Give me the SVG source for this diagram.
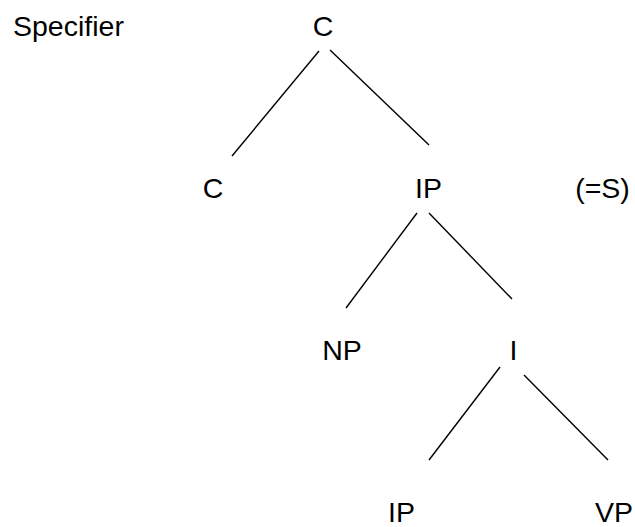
<svg xmlns="http://www.w3.org/2000/svg" width="635" height="527" viewBox="0 0 635 527">
  <style>
    .lbl { font-family: "Liberation Sans", Arial, sans-serif; font-size: 28.5px; fill: #000; text-anchor: middle; }
    .note { font-family: "Liberation Sans", Arial, sans-serif; font-size: 28.5px; fill: #000; }
    .edge { stroke: #000; stroke-width: 1.4; fill: none; }
  </style>
  <rect width="635" height="527" fill="#fff"/>

  <text class="note" x="13" y="36">Specifier</text>

  <g id="connectors">
    <line class="edge" x1="319" y1="51" x2="232" y2="156"/>
    <line class="edge" x1="330" y1="50" x2="429" y2="145"/>
    <line class="edge" x1="417" y1="213" x2="346" y2="308"/>
    <line class="edge" x1="429" y1="213" x2="512" y2="299"/>
    <line class="edge" x1="500" y1="367" x2="429" y2="460"/>
    <line class="edge" x1="524" y1="375" x2="608" y2="460"/>
  </g>

  <g id="node-c-top"><text class="lbl" x="323" y="36">C</text></g>
  <g id="node-c"><text class="lbl" x="213" y="198">C</text></g>
  <g id="node-ip"><text class="lbl" x="428.5" y="198">IP</text></g>
  <g id="note-s"><text class="lbl" x="602.5" y="198">(=S)</text></g>
  <g id="node-np"><text class="lbl" x="342" y="360">NP</text></g>
  <g id="node-i"><text class="lbl" x="513.5" y="360">I</text></g>
  <g id="node-ip-low"><text class="lbl" x="401.5" y="522">IP</text></g>
  <g id="node-vp"><text class="lbl" x="614" y="522">VP</text></g>
</svg>
